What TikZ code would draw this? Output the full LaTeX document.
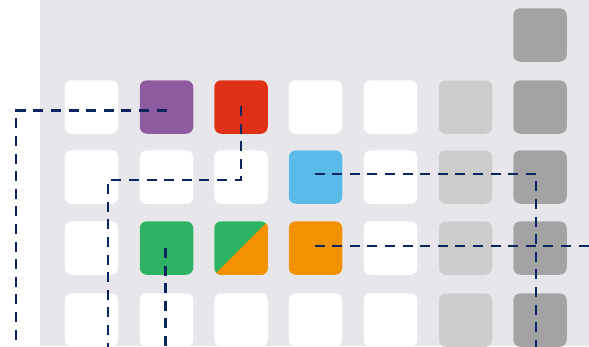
\documentclass[tikz,border=0pt]{standalone}
\usetikzlibrary{calc}
\definecolor{bgc}{HTML}{E7E6EB}
\definecolor{cpurple}{HTML}{8E5BA0}
\definecolor{cred}{HTML}{E03015}
\definecolor{cblue}{HTML}{5BBBE8}
\definecolor{cgreen}{HTML}{2EB362}
\definecolor{corange}{HTML}{F39200}
\definecolor{clight}{HTML}{CCCCCC}
\definecolor{cdark}{HTML}{A3A3A3}
\definecolor{navy}{HTML}{0A2560}
\tikzset{
  cell/.style={rectangle, rounded corners=7pt, minimum width=53.5pt, minimum height=53.5pt, inner sep=0pt, draw=none, fill=#1},
  cell/.default=white,
  conn/.style={draw=navy, line width=2.4pt, dash pattern=on 10pt off 7.6pt}
}
\begin{document}
\begin{tikzpicture}[x=1pt,y=-1pt]
\useasboundingbox (0,0) rectangle (589,346);
\clip (0,0) rectangle (589,346);
\fill[white] (0,0) rectangle (40,346);
\fill[bgc] (40,0) rectangle (589,346);
% grid
\foreach \c/\x in {1/91.5,2/166.5,3/241,4/315.5,5/390.5,6/465.5,7/540}{
  \foreach \r/\y in {1/107,2/177,3/248,4/320}{
    \node[cell] (n\c\r) at (\x,\y) {};
  }
}
\node[cell=cdark] (n70) at (540,35) {};
% colored cells
\node[cell=cpurple] (purple) at (166.5,107) {};
\node[cell=cred] (red) at (241,107) {};
\node[cell=cblue] (blue) at (315.5,177) {};
\node[cell=cgreen] (green) at (166.5,248) {};
\node[cell=corange] (orange) at (315.5,248) {};
\node[cell=cgreen] (split) at (241,248) {};
\begin{scope}
  \clip[rounded corners=7pt] (split.south west) rectangle (split.north east);
  \fill[corange] (split.south west) -- (split.north east) -- (split.south east) -- cycle;
\end{scope}
\foreach \r in {1,2,3,4}{
  \node[cell=clight] at (n6\r) {};
  \node[cell=cdark] at (n7\r) {};
}
% free ends
\coordinate (e1) at (16,350);
\coordinate (e2) at (108,350);
\coordinate (e3) at (165.5,350);
\coordinate (e4) at (536,350);
\coordinate (e5) at (595,246);
% connectors
\draw[conn] ($(purple.center)+(0,3.5)$) -| (e1);
\draw[conn] ($(red.center)+(0,-1)$) |- ($(e2)+(0,-170)$) -- (e2);
\draw[conn] ($(green.center)+(-1,0)$) -- (e3);
\draw[conn] ($(blue.center)+(-1,-3)$) -| (e4);
\draw[conn] ($(orange.center)+(-1,-2)$) -- (e5);
\end{tikzpicture}
\end{document}
